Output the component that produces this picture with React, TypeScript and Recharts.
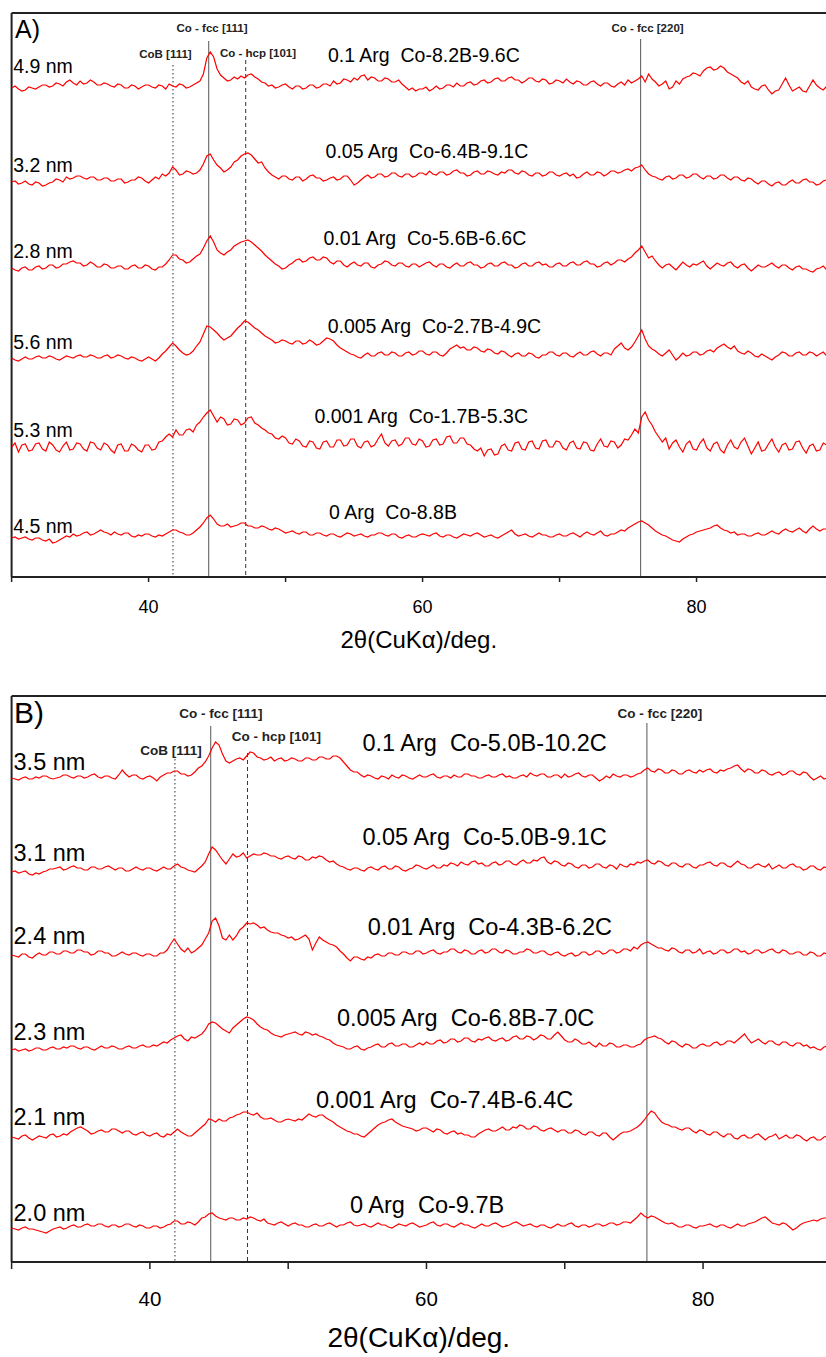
import { LineChart, Line, XAxis, YAxis, ReferenceLine, ReferenceDot, Label } from 'recharts'

const FONT = '"Liberation Sans", Arial, Helvetica, sans-serif'
const TRACE = '#ff0000'
const FRAME = '#222'

// 2θ scan grid shared by all patterns (30° .. 89.75°, 0.25° step)
const scanStart = 30
const scanStep = 0.25
const scanPoints = 240
const scanGrid = Array.from({ length: scanPoints }, (_, i) => scanStart + i * scanStep)

const xTicks = [30, 40, 50, 60, 70, 80]
const xTitle = '2θ(CuKα)/deg.'

// reflections marked on both panels
const peakNames = ['CoB [111]', 'Co - fcc [111]', 'Co - hcp [101]', 'Co - fcc [220]']
const peaksA = [41.78, 44.39, 47.09, 75.92]
const peaksB = [41.81, 44.4, 47.06, 75.94]

// ---- panel A: intensity above each pattern's own baseline, one row = 5°
const a49 = [
  0, 2, -1, -3, -2, 1, 0, -1, 1, 3, 3, 1, 2, 5, 4, 2, 6, 8, 5, 3,
  7, 4, 5, 8, 6, 3, 3, 5, 4, 2, 1, 4, 3, 0, 0, 3, 2, -1, 1, 3,
  3, 1, 0, 3, 2, -1, 4, 2, 1, 4, 3, 0, 1, 3, 5, 7, 14, 30, 36, 31,
  19, 13, 10, 7, 8, 11, 9, 12, 10, 13, 14, 11, 9, 6, 5, 2, 3, 0, 1, 3,
  4, 1, -1, 2, 2, -1, 0, 3, 3, 0, 1, 4, 4, 2, 7, 4, 5, 9, 8, 6,
  10, 8, 12, 13, 8, 11, 10, 7, 7, 10, 9, 6, 6, 8, 4, 1, -2, 0, -3, -1,
  -1, 1, -3, -1, 2, -1, 0, 3, 3, 1, 5, 2, 2, 5, 6, 3, 4, 7, 8, 5,
  6, 9, 10, 7, 7, 10, 11, 8, 8, 5, 7, 10, 10, 7, 6, 9, 8, 4, 5, 8,
  7, 5, 9, 6, 4, 7, 6, 3, 3, 6, 7, 4, 2, 5, 5, 2, 1, 4, 6, 3,
  8, 5, 7, 9, 12, 6, 14, 9, 6, 2, 4, 7, -1, 1, 7, 4, 9, 11, 12, 15,
  14, 12, 17, 20, 21, 18, 19, 22, 20, 16, 14, 12, 10, 6, 4, 7, 1, -1, -2, 2,
  3, -2, -6, -3, -2, 4, 10, 3, -3, -1, 1, -3, -4, 2, 8, 3, 0, -2, 2, 0,
]
const a32 = [
  0, 1, -2, -1, 1, -2, -3, 0, -1, -4, -3, -1, 0, 3, 2, 0, 5, 3, 4, 6,
  6, 4, 3, 5, 5, 2, 2, 4, 4, 1, 1, 3, 3, -1, 0, 2, 2, 5, 4, 1,
  -1, 2, 5, 3, 8, 6, 9, 15, 12, 7, 8, 11, 10, 8, 9, 12, 18, 26, 28, 22,
  17, 14, 10, 12, 15, 20, 22, 26, 28, 29, 27, 23, 19, 20, 14, 10, 7, 5, 3, 6,
  6, 3, 2, 5, 5, 1, 3, 6, 7, 4, 4, 1, 2, 4, 5, 2, 3, 6, 6, 2,
  -3, -1, 2, 5, 7, 4, 5, 8, 8, 5, 6, 9, 9, 6, 5, 8, 8, 5, 6, 9,
  9, 7, 11, 8, 7, 10, 10, 7, 8, 11, 12, 9, 9, 6, 7, 10, 11, 8, 8, 11,
  10, 8, 7, 10, 9, 12, 12, 9, 8, 11, 10, 7, 6, 9, 9, 6, 7, 10, 10, 7,
  6, 8, 9, 6, 8, 4, 5, 8, 10, 7, 7, 10, 9, 6, 8, 11, 11, 9, 10, 12,
  13, 11, 14, 15, 17, 12, 8, 6, 5, 3, 2, 5, 6, 3, 4, 7, 7, 4, 5, 8,
  8, 5, 3, 6, 6, 3, 4, 7, 7, 4, 2, 5, 5, 2, 1, 4, 3, 0, -2, 1,
  1, -2, -4, -1, 0, -3, -3, 0, 2, -1, -1, 2, 3, 0, 0, -3, -2, 1, 2, -1,
]
const a28 = [
  0, -2, -3, 0, 1, -2, -2, 1, 2, -1, 0, 3, 3, 0, 1, 4, 4, 6, 7, 5,
  5, 2, 3, 6, 4, 1, 1, 4, 3, 0, 0, 2, 2, -1, -1, 2, 3, 0, 0, 3,
  2, -1, -2, 1, 1, 4, 8, 13, 13, 9, 8, 5, 6, 9, 12, 14, 20, 27, 32, 26,
  18, 15, 13, 16, 18, 22, 24, 26, 27, 28, 26, 23, 20, 17, 13, 10, 7, 4, 2, -1,
  0, 3, 5, 8, 9, 6, 7, 10, 11, 8, 8, 11, 10, 6, 4, 7, 7, 3, 1, 4,
  6, 3, 2, 5, 5, 1, 0, 3, 4, 7, 6, 3, 2, 5, 5, 2, 1, 4, 4, 1,
  3, 5, 6, 3, 1, 4, 4, 1, 0, 3, 5, 2, 2, 5, 6, 3, 3, 0, 1, 4,
  5, 2, 2, 5, 6, 3, 3, 0, 1, 4, 5, 2, 2, 5, 6, 3, 4, 1, 1, 4,
  5, 2, 2, 5, 6, 3, 3, 6, 7, 4, 4, 1, 2, 5, 6, 3, 5, 8, 8, 6,
  9, 11, 15, 18, 22, 16, 10, 12, 7, 3, 0, 3, 4, 1, -2, 2, 6, 3, 1, 4,
  3, 5, 7, 2, -1, 2, 5, 3, 2, 5, 6, 2, 0, 3, 4, 0, -3, 0, 3, 1,
  1, 3, 5, 2, 0, 3, 3, 0, -2, 1, 2, -1, -1, -3, -4, -1, 0, 2, -2, -1,
]
const a56 = [
  0, -2, -3, -1, 1, -1, -1, 1, 2, 0, 0, 2, 1, -1, -2, 0, 2, 1, 0, 2,
  3, 1, 1, 3, 2, 0, 0, 2, 3, 0, 1, 3, 2, 0, -1, 1, 0, -2, -3, -1,
  1, -1, -3, 0, 4, 7, 11, 15, 12, 8, 5, 3, 4, 7, 12, 16, 24, 32, 31, 28,
  25, 21, 18, 20, 22, 26, 30, 33, 37, 36, 33, 30, 28, 25, 22, 20, 18, 15, 16, 18,
  17, 15, 14, 17, 17, 14, 15, 18, 16, 13, 14, 17, 20, 19, 17, 13, 10, 8, 6, 4,
  3, 1, 0, 3, 5, 2, 2, 5, 6, 3, 3, 6, 5, 2, 2, 5, 6, 3, 4, 7,
  7, 4, 3, 6, 6, 3, 2, 5, 9, 11, 13, 10, 11, 8, 8, 11, 10, 7, 6, 9,
  8, 5, 4, 7, 6, 3, 1, 4, 5, 2, 2, 5, 4, 1, 0, 3, 3, 6, 6, 3,
  2, 5, 5, 2, 1, 4, 6, 3, 3, 6, 7, 4, 2, 5, 5, 3, 9, 12, 15, 10,
  8, 11, 16, 22, 28, 19, 12, 9, 7, 4, 2, 5, 8, 3, -2, 1, 5, 2, 3, 6,
  6, 3, 4, 7, 8, 6, 10, 12, 14, 11, 9, 12, 7, 5, 4, 7, 5, 2, 1, 4,
  2, 0, -2, 1, 3, 6, 5, 2, 2, 5, 6, 3, 3, 6, 5, 2, 4, 6, 2, 4,
]
const a53 = [
  0, 4, -5, 2, 3, -4, -3, 3, 4, -2, -4, 5, 2, -3, -5, 1, 5, -3, -2, 4,
  3, -2, -4, 5, 4, -1, -3, 4, 2, -3, -6, 2, 3, -4, -4, 3, 1, -3, -5, 2,
  2, -3, -2, 5, 6, 10, 13, 10, 17, 12, 12, 17, 18, 15, 22, 25, 30, 34, 37, 31,
  25, 30, 28, 22, 23, 28, 27, 22, 24, 29, 30, 24, 22, 19, 17, 14, 13, 9, 8, 11,
  9, 4, 3, 8, 6, 1, 0, 6, 5, -1, -2, 5, 6, 0, 0, 7, 7, 1, 2, 8,
  8, 1, -1, 5, 6, 0, 2, 8, 13, 4, 1, 6, 7, 1, 3, 9, 9, 3, 2, 8,
  6, 0, 1, 7, 8, 2, 3, 10, 11, 4, 4, 9, 9, 3, 2, -2, -4, -1, -9, -3,
  -2, -8, -7, 1, 3, -3, -4, 4, 5, -2, -3, 5, 6, -1, -2, 6, 7, 0, 0, 6,
  5, -1, -3, 4, 6, -1, -2, 5, 4, -3, -4, 3, 8, 1, 0, 6, 5, -1, 2, 8,
  7, 12, 18, 14, 30, 35, 27, 22, 15, 10, 5, 9, -2, 4, 7, 0, -5, 3, 6, -2,
  -3, 4, 8, -1, -4, 3, 5, -3, -6, 2, 7, 0, -2, 5, 9, 1, -7, -1, 5, -4,
  -3, 3, 8, 0, -5, 2, 4, -3, -2, 5, 6, -1, -6, 1, 3, -4, -3, 4, 2, -2,
]
const a45 = [
  0, 1, -1, 0, 1, -1, -2, 0, 0, -2, -3, -1, -5, -4, -2, 0, 2, 1, 4, 2,
  3, 5, 6, 3, 4, 6, 8, 6, 5, 3, 6, 4, 3, 5, 5, 2, 1, 3, 2, 4,
  4, 2, 1, 3, 2, 4, 6, 8, 8, 6, 5, 3, 3, 5, 8, 11, 15, 20, 23, 19,
  14, 12, 12, 14, 11, 12, 13, 15, 15, 12, 12, 10, 10, 12, 11, 9, 8, 10, 9, 7,
  5, 6, 7, 5, 4, 6, 6, 3, 3, 5, 5, 3, 2, 4, 4, 2, 1, 3, 5, 4,
  2, 3, 4, 2, 1, 3, 3, 5, 5, 3, 2, 4, 4, 1, 0, 2, 3, 1, 1, 3,
  4, 3, 2, 4, 5, 2, 1, 3, 3, 1, 0, 2, 4, 3, 2, 4, 5, 3, 1, 2,
  3, 1, 0, 2, 4, 6, 8, 4, 2, 3, 4, 2, 1, 3, 5, 3, 3, 1, 1, 3,
  4, 2, 2, 4, 5, 3, 1, 4, 6, 4, 3, 5, 7, 3, 2, 4, 4, 6, 8, 7,
  10, 12, 14, 16, 17, 15, 13, 10, 7, 5, 3, 2, 0, -2, -3, -4, -1, 1, 3, 4,
  6, 7, 8, 9, 10, 12, 13, 10, 8, 7, 5, 6, 3, 4, 4, 2, 2, 4, 5, 3,
  3, 5, 7, 5, 4, 7, 9, 7, 6, 8, 10, 7, 5, 9, 12, 9, 7, 9, 9, 8,
]
const patternsA = [a49, a32, a28, a56, a53, a45]
const offsetsA = [489, 395, 309, 219, 130, 39]
const sizesA = ['4.9 nm', '3.2 nm', '2.8 nm', '5.6 nm', '5.3 nm', '4.5 nm']
const samplesA = [
  '0.1 Arg\u00a0 Co-8.2B-9.6C',
  '0.05 Arg\u00a0 Co-6.4B-9.1C',
  '0.01 Arg\u00a0 Co-5.6B-6.6C',
  '0.005 Arg\u00a0 Co-2.7B-4.9C',
  '0.001 Arg\u00a0 Co-1.7B-5.3C',
  '0 Arg\u00a0 Co-8.8B',
]

// ---- panel B
const b35 = [
  0, -1, -2, 0, 1, -1, -1, 1, 0, 2, 2, 0, -1, 0, 1, 3, 3, 1, 0, 2,
  2, 0, 1, 3, 4, 1, 0, 2, 2, 0, -1, 3, 8, 4, 1, 3, 3, 0, -1, 1,
  2, 0, -3, 1, 3, 5, 5, 7, 7, 4, 4, 2, 3, 6, 10, 12, 16, 22, 30, 36,
  33, 24, 17, 15, 17, 19, 20, 18, 22, 26, 25, 21, 20, 18, 19, 21, 17, 19, 20, 17,
  18, 20, 19, 17, 17, 20, 20, 18, 18, 21, 21, 19, 19, 22, 22, 20, 16, 12, 8, 6,
  6, 3, 1, 3, 2, 0, -1, 2, 1, -1, 3, 1, 0, 3, 2, 0, -1, 1, 3, 1,
  1, 3, 4, 1, 0, 2, 2, 0, 3, 1, 1, 4, 4, 2, 2, 0, 0, 2, 3, 1,
  1, 3, 4, 1, 2, 0, 0, 2, 3, 1, 5, 3, 2, 4, 4, 1, 1, 3, 3, 0,
  4, 1, 2, 4, 5, 2, 1, 3, 3, 0, -3, -1, 2, 0, 4, 2, 1, 3, 3, 1,
  2, 4, 5, 8, 10, 7, 6, 9, 8, 5, 5, 8, 7, 4, 4, 7, 8, 6, 5, 8,
  6, 8, 9, 6, 5, 8, 7, 9, 10, 12, 13, 9, 6, 9, 8, 5, 5, 8, 7, 4,
  3, 5, 6, 3, 4, 7, 7, 4, 3, 6, 5, 1, -2, 0, 2, -1, 0, 2, 1, 3,
]
const b31 = [
  0, 1, -1, 0, 1, -2, -3, -1, -2, 0, 1, 3, 3, 4, 5, 2, 3, 5, 6, 4,
  4, 2, 2, 5, 5, 3, 3, 5, 6, 4, 2, 4, 4, 1, 1, 3, 5, 3, 2, 4,
  4, 2, 1, 3, 5, 3, 3, 6, 8, 5, 4, 2, 1, 0, 3, 6, 10, 18, 25, 22,
  17, 12, 8, 13, 18, 15, 16, 19, 14, 16, 18, 17, 17, 19, 18, 16, 16, 14, 13, 15,
  16, 14, 13, 16, 15, 12, 12, 15, 14, 16, 15, 12, 10, 11, 8, 6, 5, 3, 2, 4,
  4, 2, 1, 4, 5, 3, 2, 5, 6, 3, 3, 6, 5, 2, 1, 3, 4, 7, 6, 4,
  3, 5, 7, 4, 4, 7, 6, 9, 8, 6, 10, 8, 7, 10, 11, 8, 9, 6, 6, 9,
  10, 7, 8, 11, 11, 8, 7, 10, 12, 9, 9, 12, 11, 14, 15, 10, 8, 11, 10, 7,
  6, 9, 8, 5, 4, 7, 7, 4, 5, 8, 8, 5, 4, 7, 6, 3, 8, 6, 5, 8,
  7, 10, 9, 11, 12, 9, 8, 11, 10, 7, 6, 9, 9, 6, 5, 8, 8, 5, 4, 7,
  7, 9, 10, 7, 6, 9, 9, 6, 5, 8, 11, 8, 7, 4, 4, 7, 8, 6, 5, 8,
  3, 5, 7, 4, 4, 7, 8, 5, 5, 2, 3, 6, 6, 3, 2, 5, 4, 1, 3, 5,
]
const b24 = [
  0, -1, -2, 1, 1, -2, -3, 0, 2, 0, 0, 3, 3, 1, 1, 4, 4, 2, 2, 5,
  5, 3, 3, 0, 1, 4, 4, 2, 2, -1, -1, 1, 3, 1, 0, 2, 2, 0, -1, 1,
  1, -1, -1, 2, 2, 5, 11, 16, 11, 6, 3, 7, 2, 4, 7, 10, 16, 22, 34, 37,
  29, 17, 15, 20, 15, 19, 25, 28, 32, 31, 32, 30, 27, 28, 25, 23, 22, 22, 20, 19,
  17, 18, 15, 16, 18, 20, 16, 5, 12, 18, 15, 13, 11, 10, 8, 4, 1, -3, -6, -2,
  -2, -4, -5, -2, -3, 0, 1, -1, -1, 2, 2, 0, 0, 3, 3, 1, 1, 4, 4, 1,
  2, 4, 5, 2, 1, 3, 3, 6, 6, 3, 2, 5, 4, 1, 1, 4, 5, 2, 3, 6,
  6, 3, 2, 5, 4, 1, 1, 3, 3, 6, 5, 2, 2, 4, 4, 1, 0, 2, 3, 0,
  -1, 1, 2, -1, 0, 3, 3, 0, 1, 4, 4, 1, 2, 5, 5, 2, 3, 6, 6, 4,
  8, 6, 10, 12, 13, 11, 9, 7, 7, 5, 4, 7, 6, 3, 2, 5, 5, 2, 3, 6,
  1, 3, 4, 1, 2, 5, 5, 2, 3, 6, 6, 3, 4, 1, 2, 5, 5, 2, 3, 5,
  6, 3, 2, 5, 4, 1, 1, 3, 3, 0, 0, 3, 2, -1, -1, 2, 1, -1, 0, 2,
]
const b23 = [
  0, 1, -1, 0, 1, -1, 0, 2, 2, 0, 0, 2, 3, 1, 1, 3, 2, 4, 4, 2,
  1, 3, 3, 1, 0, 2, 4, 2, 2, 4, 3, 1, 1, 3, 4, 2, 2, 4, 5, 3,
  3, 5, 4, 6, 8, 7, 10, 12, 14, 15, 11, 9, 13, 12, 14, 16, 20, 26, 28, 27,
  24, 21, 19, 17, 22, 25, 28, 31, 33, 32, 30, 26, 23, 21, 20, 17, 15, 14, 13, 15,
  16, 17, 18, 16, 15, 18, 17, 15, 16, 14, 13, 11, 10, 7, 5, 4, 3, 1, 1, 3,
  4, 1, 0, 2, 3, 5, 6, 3, 3, 6, 7, 4, 4, 6, 6, 3, 3, 5, 7, 5,
  8, 6, 6, 9, 10, 7, 8, 11, 11, 8, 9, 12, 12, 9, 8, 11, 10, 12, 13, 10,
  9, 11, 12, 9, 10, 13, 14, 11, 11, 14, 13, 10, 12, 15, 14, 11, 11, 15, 18, 14,
  10, 8, 8, 11, 9, 6, 6, 8, 5, 3, 7, 4, 4, 7, 6, 3, 3, 5, 5, 3,
  3, 5, 6, 10, 12, 13, 14, 12, 11, 8, 6, 9, 8, 5, 3, 6, 5, 2, 2, 5,
  6, 4, 4, 7, 8, 5, 6, 9, 9, 7, 10, 13, 16, 11, 7, 9, 11, 8, 6, 9,
  9, 6, 5, 8, 8, 5, 4, 7, 7, 4, 5, 2, 3, 1, 0, 3, 4, 2, 3, 5,
]
const b21 = [
  0, -1, -2, 1, 2, -1, -3, -1, 1, 0, -1, 2, 3, 0, 1, 3, 2, 5, 7, 9,
  10, 8, 6, 3, 4, 6, 7, 5, 5, 8, 8, 6, 4, 6, 6, 3, 2, 4, 5, 2,
  1, 3, 4, 1, 0, 3, 2, 5, 8, 5, 3, 1, 1, 4, 7, 10, 13, 18, 17, 15,
  18, 16, 16, 19, 20, 22, 23, 25, 25, 23, 22, 24, 20, 18, 18, 19, 17, 15, 15, 17,
  18, 17, 16, 18, 17, 20, 23, 21, 20, 22, 22, 19, 17, 15, 12, 10, 8, 6, 5, 3,
  3, 1, 0, 3, 6, 9, 12, 14, 15, 17, 18, 15, 13, 11, 10, 9, 8, 6, 7, 9,
  9, 7, 5, 8, 7, 4, 3, 5, 6, 3, 4, 2, 2, 0, 0, 3, 5, 7, 8, 6,
  6, 8, 10, 7, 7, 10, 9, 12, 11, 8, 8, 11, 10, 7, 6, 8, 9, 7, 5, 7,
  7, 4, 4, 7, 6, 3, 2, 5, 5, 2, 1, 4, 4, 0, -3, 0, 3, 5, 5, 6,
  8, 10, 13, 17, 22, 26, 24, 19, 15, 13, 12, 10, 10, 8, 7, 9, 9, 6, 4, 7,
  6, 3, 2, 5, 5, 2, 0, 3, 3, -1, -2, 1, 2, -1, -1, 2, 3, 0, -3, 0,
  1, 3, -2, 0, 2, -1, -1, 2, 1, -2, -4, -1, 0, -3, -3, 0, 1, -1, -2, 1,
]
const b20 = [
  0, -1, -2, 0, 1, -1, -1, -2, -3, -4, -5, -3, -1, 0, 1, -1, 0, 2, 3, 1,
  1, 3, 4, 2, 2, 4, 4, 2, 1, 3, 3, 1, 2, 4, 4, 2, 1, 3, 2, 0,
  0, 2, 2, 0, 1, 3, 4, 7, 7, 4, 4, 6, 5, 3, 6, 10, 11, 14, 15, 12,
  10, 9, 8, 10, 10, 8, 8, 10, 9, 11, 10, 8, 7, 9, 5, 4, 3, 5, 6, 4,
  2, 4, 5, 3, 3, 1, 1, 3, 4, 2, 2, 4, 5, 3, 1, 3, 3, 5, 6, 3,
  2, 3, 4, 2, 1, 3, 5, 3, 3, 1, 0, 2, 4, 3, 2, 4, 5, 3, 1, 2,
  3, 5, 6, 3, 2, 4, 4, 2, 1, 3, 5, 3, 3, 1, 0, 2, 4, 2, 2, 4,
  5, 3, 1, 2, 3, 5, 6, 4, 2, 3, 4, 2, 1, 3, 3, 1, 0, 2, 4, 2,
  2, 4, 5, 2, 1, 3, 3, 1, 2, 4, 4, 2, 3, 5, 5, 3, 4, 6, 6, 5,
  8, 11, 15, 12, 10, 12, 11, 9, 7, 5, 4, 5, 3, 1, 1, 3, 3, 1, 0, 2,
  2, 3, 4, 2, 1, 3, 3, 1, 0, 2, 4, 2, 2, 4, 5, 6, 8, 10, 11, 8,
  5, 4, 3, 5, 4, 1, -2, 0, 3, 5, 6, 7, 8, 7, 9, 10, 10, 9, 9, 10,
]
const patternsB = [b35, b31, b24, b23, b21, b20]
const offsetsB = [484, 390, 307, 212, 125, 34]
const sizesB = ['3.5 nm', '3.1 nm', '2.4 nm', '2.3 nm', '2.1 nm', '2.0 nm']
const samplesB = [
  '0.1 Arg\u00a0 Co-5.0B-10.2C',
  '0.05 Arg\u00a0 Co-5.0B-9.1C',
  '0.01 Arg\u00a0 Co-4.3B-6.2C',
  '0.005 Arg\u00a0 Co-6.8B-7.0C',
  '0.001 Arg\u00a0 Co-7.4B-6.4C',
  '0 Arg\u00a0 Co-9.7B',
]

// ---- layout (y is in pixels above the x axis, x in degrees)
type Layout = {
  top: number
  plotHeight: number
  axisHeight: number
  xMax: number
  tickFont: number
  tickSize: number
  tickMargin: number
  titleFont: number
  titleOffset: number
  tagFont: number
  tagX: number
  tagY: number
  textFont: number
  sizeX: number
  sizeY: number[]
  sampleX: number[]
  sampleY: number[]
  peakFont: number
  peakLabelX: number[]
  peakLabelY: number[]
  peakTop: number[]
}

const layoutA: Layout = {
  top: 13,
  plotHeight: 564,
  axisHeight: 80,
  xMax: 89.45,
  tickFont: 18,
  tickSize: 5,
  tickMargin: 18,
  titleFont: 24,
  titleOffset: 9,
  tagFont: 25,
  tagX: 30.25,
  tagY: 547.5,
  textFont: 19.5,
  sizeX: 30.12,
  sizeY: [511, 412, 326, 235, 147, 51],
  sampleX: [53.09, 52.92, 52.77, 53.07, 52.11, 53.17],
  sampleY: [522, 426, 339, 251, 161, 65],
  peakFont: 11.5,
  peakLabelX: [41.23, 44.63, 47.99, 76.42],
  peakLabelY: [523, 549.5, 524, 549],
  peakTop: [512, 536, 517, 538],
}

const layoutB: Layout = {
  top: 36,
  plotHeight: 566,
  axisHeight: 95,
  xMax: 88.89,
  tickFont: 20.5,
  tickSize: 7,
  tickMargin: 22,
  titleFont: 28,
  titleOffset: 10,
  tagFont: 30,
  tagX: 30.17,
  tagY: 550,
  textFont: 23.5,
  sizeX: 30.14,
  sizeY: [500, 409, 326, 230, 145, 49],
  sampleX: [55.37, 55.37, 55.75, 53.53, 52.01, 54.47],
  sampleY: [519, 425, 335, 244, 162, 57],
  peakFont: 13.5,
  peakLabelX: [41.53, 45.14, 49.15, 76.88],
  peakLabelY: [512, 549, 526, 549],
  peakTop: [503, 536, 509, 539],
}

const peakDash = ['1.5 2.5', undefined, '4 3', undefined]
const peakStroke = ['#333', '#555', '#333', '#555']

type PanelProps = {
  tag: string
  patterns: number[][]
  offsets: number[]
  sizes: string[]
  samples: string[]
  peaks: number[]
  lay: Layout
}

function Panel({ tag, patterns, offsets, sizes, samples, peaks, lay }: PanelProps) {
  const rows = scanGrid.map((x, i) => {
    const row: Record<string, number> = { x }
    patterns.forEach((p, k) => {
      row[`p${k}`] = offsets[k] + p[i]
    })
    return row
  })
  const ink = { fill: '#000', fontFamily: FONT }

  return (
    <LineChart
      width={826}
      height={lay.top + lay.plotHeight + lay.axisHeight}
      data={rows}
      margin={{ top: lay.top, right: 0, bottom: 0, left: 11.6 }}
    >
      <XAxis
        dataKey="x"
        type="number"
        domain={[30, lay.xMax]}
        allowDataOverflow
        ticks={xTicks}
        interval={0}
        tickFormatter={(v: number) => (v % 20 === 0 ? String(v) : '')}
        tickSize={lay.tickSize}
        tickMargin={lay.tickMargin}
        height={lay.axisHeight}
        axisLine={{ stroke: FRAME, strokeWidth: 2 }}
        tickLine={{ stroke: FRAME, strokeWidth: 1.5 }}
        tick={{ fontSize: lay.tickFont, ...ink }}
      >
        <Label value={xTitle} position="insideBottom" offset={lay.titleOffset} fontSize={lay.titleFont} {...ink} />
      </XAxis>
      <YAxis hide type="number" domain={[0, lay.plotHeight]} allowDataOverflow />

      {/* frame: left and top edges of the plot box */}
      <ReferenceLine x={30} stroke={FRAME} strokeWidth={2} ifOverflow="visible" />
      <ReferenceLine y={lay.plotHeight} stroke={FRAME} strokeWidth={2} ifOverflow="visible" />

      {peaks.map((p, k) => (
        <ReferenceLine
          key={`peak-${k}`}
          segment={[
            { x: p, y: lay.peakTop[k] },
            { x: p, y: 0 },
          ]}
          stroke={peakStroke[k]}
          strokeWidth={1}
          strokeDasharray={peakDash[k]}
        />
      ))}

      {patterns.map((_, k) => (
        <Line
          key={`p${k}`}
          dataKey={`p${k}`}
          type="linear"
          stroke={TRACE}
          strokeWidth={1.2}
          dot={false}
          activeDot={false}
          isAnimationActive={false}
        />
      ))}

      {peakNames.map((name, k) => (
        <ReferenceDot
          key={`pl-${k}`}
          x={lay.peakLabelX[k]}
          y={lay.peakLabelY[k]}
          r={0}
          fill="none"
          stroke="none"
          label={{ value: name, position: 'center', fontSize: lay.peakFont, fontWeight: 'bold', fill: '#222', fontFamily: FONT }}
        />
      ))}

      <ReferenceDot
        x={lay.tagX}
        y={lay.tagY}
        r={0}
        fill="none"
        stroke="none"
        label={{ value: tag, position: 'right', offset: 0, fontSize: lay.tagFont, ...ink }}
      />

      {sizes.map((s, k) => (
        <ReferenceDot
          key={`sz-${k}`}
          x={lay.sizeX}
          y={lay.sizeY[k]}
          r={0}
          fill="none"
          stroke="none"
          label={{ value: s, position: 'right', offset: 0, fontSize: lay.textFont, ...ink }}
        />
      ))}

      {samples.map((s, k) => (
        <ReferenceDot
          key={`sm-${k}`}
          x={lay.sampleX[k]}
          y={lay.sampleY[k]}
          r={0}
          fill="none"
          stroke="none"
          label={{ value: s, position: 'right', offset: 0, fontSize: lay.textFont, ...ink }}
        />
      ))}
    </LineChart>
  )
}

export default function App() {
  return (
    <div style={{ position: 'absolute', left: 0, top: 0, width: 826, height: 1357, overflow: 'hidden', background: '#fff' }}>
      <div style={{ position: 'absolute', left: 0, top: 0 }}>
        <Panel tag="A)" patterns={patternsA} offsets={offsetsA} sizes={sizesA} samples={samplesA} peaks={peaksA} lay={layoutA} />
      </div>
      <div style={{ position: 'absolute', left: 0, top: 660 }}>
        <Panel tag="B)" patterns={patternsB} offsets={offsetsB} sizes={sizesB} samples={samplesB} peaks={peaksB} lay={layoutB} />
      </div>
    </div>
  )
}
